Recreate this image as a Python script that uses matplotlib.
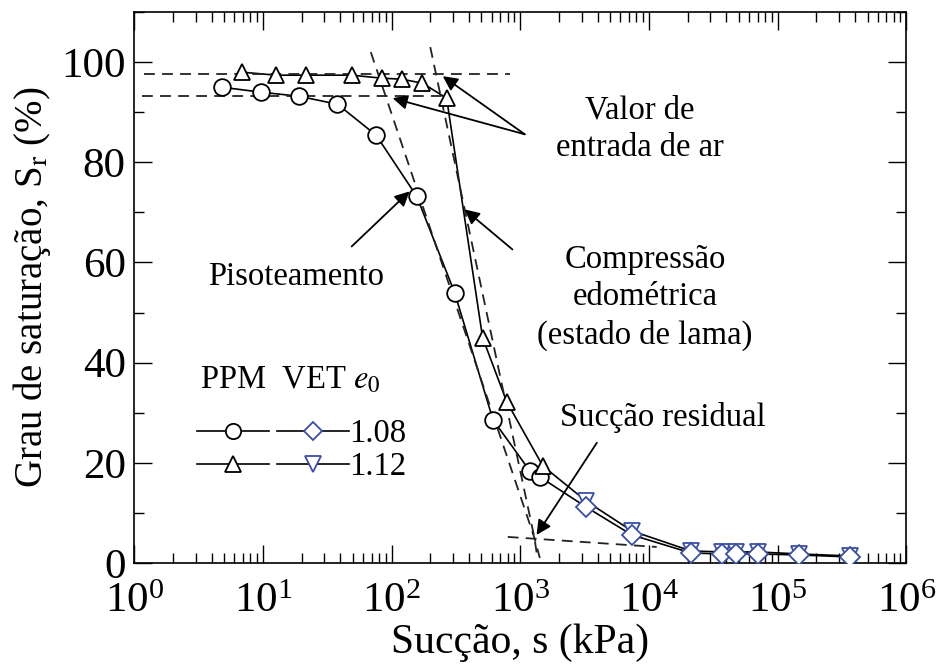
import numpy as np
import matplotlib
matplotlib.use("Agg")
import matplotlib.pyplot as plt
from matplotlib.lines import Line2D
from matplotlib.ticker import LogLocator, MultipleLocator, NullFormatter, FixedLocator

plt.rcParams['font.family'] = ['Liberation Serif', 'DejaVu Serif']
plt.rcParams['mathtext.fontset'] = 'stix'

# PPM series (black markers)
ppm_108_s = [4.8, 9.7, 19, 38, 76, 157, 309, 614, 1186, 1417]
ppm_108_sr = [95.0, 94.0, 93.2, 91.6, 85.4, 73.2, 54.0, 28.6, 18.4, 17.2]
ppm_112_s = [6.9, 12.7, 21.8, 49, 84, 120, 174, 268, 510, 785, 1496]
ppm_112_sr = [98.0, 97.4, 97.4, 97.4, 96.8, 96.6, 95.8, 92.8, 45.0, 32.2, 19.4]

# VET series (blue markers)
vet_s = [3236, 7370, 21200, 37000, 47500, 70000, 147000, 366000]
vet_108_sr = [11.2, 5.6, 2.0, 1.8, 1.8, 1.8, 1.6, 1.2]
vet_112_sr = [12.4, 6.4, 2.4, 2.2, 2.2, 2.2, 1.8, 1.4]

# tangent construction lines (x, y pairs)
air_entry_108 = ([1.15, 250], [93.2, 93.2])
air_entry_112 = ([1.2, 830], [97.6, 97.6])
slope_108 = ([69, 1290, 1420], [102, 5.0, 1.0])
slope_112 = ([200, 1290, 1360], [103, 5.0, 1.0])
residual = ([800, 11500], [5.2, 3.2])

x_major = [1, 10, 100, 1e3, 1e4, 1e5, 1e6]
y_major = [0, 20, 40, 60, 80, 100]

blue = '#3a4ea6'

fig = plt.figure(figsize=(9.45, 6.71), dpi=100)
ax = fig.add_axes([0.142, 0.161, 0.817, 0.821])

# solid curves: PPM continues into VET
ax.plot(ppm_108_s + vet_s, ppm_108_sr + vet_108_sr, color='black', lw=1.2, zorder=2)
ax.plot(ppm_112_s + vet_s, ppm_112_sr + vet_112_sr, color='black', lw=1.2, zorder=2)

mk = dict(linestyle='none', markerfacecolor='white', markeredgewidth=1.3, zorder=4)
ax.plot(ppm_108_s, ppm_108_sr, marker='o', markersize=12, markeredgecolor='black', **mk)
ax.plot(ppm_112_s, ppm_112_sr, marker='^', markersize=12, markeredgecolor='black', **mk)
ax.plot(vet_s, vet_112_sr, marker='v', markersize=12, markeredgecolor=blue, **mk)
ax.plot(vet_s, vet_108_sr, marker='D', markersize=10, markeredgecolor=blue, **mk)

dash = dict(color='#222222', lw=1.3, linestyle=(0, (6, 4)), zorder=3)
for xs, ys in [air_entry_108, air_entry_112, slope_108, slope_112, residual]:
    ax.plot(xs, ys, **dash)

# annotations
arr = dict(arrowstyle='-|>', color='black', lw=1.3, mutation_scale=22, shrinkA=0, shrinkB=0)
fs = 23.5
ax.text(8500, 86.6, 'Valor de\nentrada de ar', ha='center', va='center', fontsize=fs, linespacing=1.3)
ax.annotate('', xy=(250, 97.2), xytext=(1084, 85.6), arrowprops=arr)
ax.annotate('', xy=(102, 92.8), xytext=(1084, 85.6), arrowprops=arr)
ax.text(18, 57.2, 'Pisoteamento', ha='center', va='center', fontsize=fs)
ax.annotate('', xy=(138, 74.2), xytext=(49, 63.2), arrowprops=arr)
ax.text(9300, 53, 'Compressão\nedométrica\n(estado de lama)', ha='center', va='center',
        fontsize=fs, linespacing=1.3)
ax.annotate('', xy=(370, 70.6), xytext=(870, 62.6), arrowprops=arr)
ax.text(12900, 29, 'Sucção residual', ha='center', va='center', fontsize=fs)
ax.annotate('', xy=(1340, 5.6), xytext=(3940, 24), arrowprops=arr)

# legend: header text + two-column handles
ax.text(0.085, 0.332, 'PPM  VET $e_0$', transform=ax.transAxes, ha='left', va='center', fontsize=fs)
lm = dict(color='black', lw=1.2, markerfacecolor='white', markeredgewidth=1.3)
handles = [
    Line2D([], [], marker='o', markersize=11, markeredgecolor='black', **lm),
    Line2D([], [], marker='^', markersize=11, markeredgecolor='black', **lm),
    Line2D([], [], marker='D', markersize=9, markeredgecolor=blue, **lm),
    Line2D([], [], marker='v', markersize=11, markeredgecolor=blue, **lm),
]
leg = ax.legend(handles, ['', '', '1.08', '1.12'], ncol=2, loc='upper left',
                bbox_to_anchor=(0.082, 0.262), frameon=False, fontsize=fs,
                handlelength=2.2, handletextpad=0.0, columnspacing=0.25,
                labelspacing=0.08, numpoints=1, borderpad=0.0, borderaxespad=0.0)

ax.set_xscale('log')
ax.set_xlim(1, 1e6)
ax.set_ylim(0, 110)
ax.xaxis.set_major_locator(FixedLocator(x_major))
ax.xaxis.set_minor_locator(LogLocator(base=10, subs=np.arange(2, 10), numticks=20))
ax.xaxis.set_minor_formatter(NullFormatter())
ax.set_yticks(y_major)
ax.yaxis.set_minor_locator(MultipleLocator(10))

ax.tick_params(which='both', direction='in', top=True, right=True, labelsize=31, width=1.0)
ax.tick_params(which='major', length=13)
ax.tick_params(which='minor', length=7)
ax.tick_params(axis='x', which='major', pad=14)
ax.tick_params(axis='y', which='major', pad=6)
for sp in ax.spines.values():
    sp.set_linewidth(1.2)

ax.set_xlabel('Sucção, s (kPa)', fontsize=30, labelpad=2)
ax.set_ylabel('Grau de saturação, S$_{\\mathrm{r}}$ (%)', fontsize=28, labelpad=6)

fig.savefig('out.png', dpi=100)
